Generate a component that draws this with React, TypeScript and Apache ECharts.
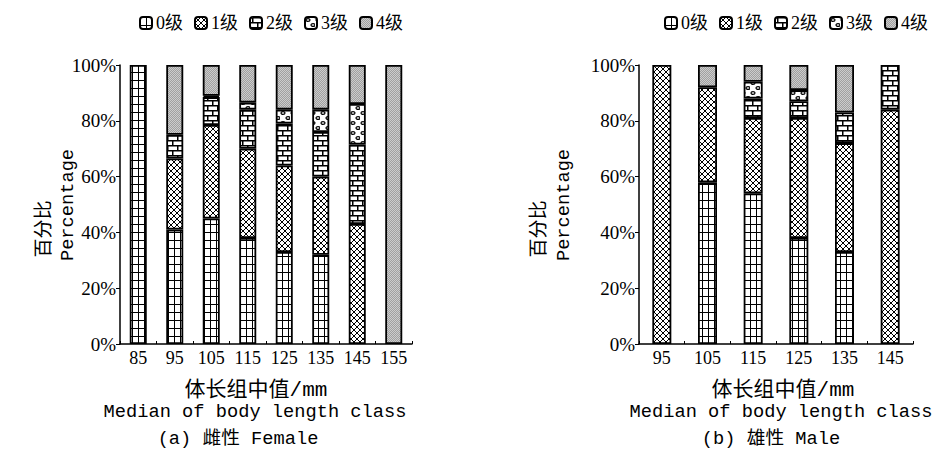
import React, { useEffect, useRef } from "react";
import * as echarts from "echarts";

const levels = ["0级", "1级", "2级", "3级", "4级"];

const femaleCats = ["85", "95", "105", "115", "125", "135", "145", "155"];
const female0 = [100, 41, 45, 38, 33, 32, 0, 0];
const female1 = [0, 25.5, 33.5, 32, 31, 28, 43, 0];
const female2 = [0, 8.5, 10, 14, 15, 16, 28.5, 0];
const female3 = [0, 0, 0.5, 2.5, 5, 8, 14.5, 0];
const female4 = [0, 25, 11, 13.5, 16, 16, 14, 100];

const maleCats = ["95", "105", "115", "125", "135", "145"];
const male0 = [0, 58, 54, 38, 33, 0];
const male1 = [100, 34, 27, 43, 39, 84];
const male2 = [0, 0, 7, 6, 11, 16];
const male3 = [0, 0, 6, 4, 0, 0];
const male4 = [0, 8, 6, 9, 17, 0];

const yTicks = { min: 0, max: 100, interval: 20 };

const SERIF = "'Liberation Serif', 'Noto Sans CJK SC', serif";
const MONO = "'Liberation Mono', 'Noto Sans CJK SC', monospace";

function tile(w: number, h: number, draw: (ctx: CanvasRenderingContext2D) => void, bg = "#fff") {
  const c = document.createElement("canvas");
  c.width = w;
  c.height = h;
  const ctx = c.getContext("2d")!;
  ctx.fillStyle = bg;
  ctx.fillRect(0, 0, w, h);
  draw(ctx);
  return { image: c, repeat: "repeat", imageWidth: w, imageHeight: h } as any;
}

function makePatterns() {
  const grid = tile(6, 8, (ctx) => {
    ctx.fillStyle = "#000";
    ctx.fillRect(0, 0, 6, 1);
    ctx.fillRect(0, 0, 1, 8);
  });
  const cross = tile(6, 6, (ctx) => {
    ctx.strokeStyle = "#000";
    ctx.lineWidth = 1;
    ctx.beginPath();
    ctx.moveTo(0, 0);
    ctx.lineTo(6, 6);
    ctx.moveTo(6, 0);
    ctx.lineTo(0, 6);
    ctx.stroke();
  });
  const brick = tile(10, 10, (ctx) => {
    ctx.fillStyle = "#000";
    ctx.fillRect(0, 0, 10, 1.5);
    ctx.fillRect(0, 5, 10, 1.5);
    ctx.fillRect(2, 0, 1.5, 5);
    ctx.fillRect(7, 5, 1.5, 5);
  });
  const blobs = tile(10, 10, (ctx) => {
    ctx.strokeStyle = "#000";
    ctx.lineWidth = 1.2;
    ctx.beginPath();
    ctx.ellipse(3, 3, 2, 1.4, 0, 0, Math.PI * 2);
    ctx.stroke();
    ctx.beginPath();
    ctx.ellipse(8, 8, 2, 1.4, 0, 0, Math.PI * 2);
    ctx.stroke();
  });
  const gray = tile(2, 2, (ctx) => {
    ctx.fillStyle = "#cccccc";
    ctx.fillRect(0, 0, 1, 1);
    ctx.fillRect(1, 1, 1, 1);
  }, "#a0a0a0");
  return [grid, cross, brick, blobs, gray];
}

export default function App() {
  const ref = useRef<HTMLDivElement>(null);
  useEffect(() => {
    if (!ref.current) return;
    const chart = echarts.init(ref.current, undefined, { renderer: "svg" });
    const pats = makePatterns();
    const femaleData = [female0, female1, female2, female3, female4];
    const maleData = [male0, male1, male2, male3, male4];

    const series: any[] = [];
    [femaleData, maleData].forEach((group, gi) => {
      group.forEach((d, k) => {
        series.push({
          type: "bar",
          name: levels[k],
          stack: "g" + gi,
          xAxisIndex: gi,
          yAxisIndex: gi,
          data: d.map((v) => (v === 0 ? "-" : v)),
          barWidth: gi === 0 ? 17 : 19,
          itemStyle: { color: pats[k], borderColor: "#000", borderWidth: 1.8 },
        });
      });
    });

    const xAxisBase = (data: string[], gi: number) => ({
      type: "category",
      gridIndex: gi,
      data,
      boundaryGap: true,
      axisLine: { show: true, lineStyle: { color: "#000", width: 1.5 } },
      axisTick: { show: true, inside: true, length: 3, alignWithLabel: false, interval: 0, lineStyle: { color: "#000" } },
      axisLabel: { interval: 0, margin: 5, color: "#000", fontSize: 18, fontFamily: SERIF },
      splitLine: { show: false },
    });
    const yAxisBase = (gi: number) => ({
      type: "value",
      gridIndex: gi,
      min: yTicks.min,
      max: yTicks.max,
      interval: yTicks.interval,
      axisLine: { show: true, lineStyle: { color: "#000", width: 1.5 } },
      axisTick: { show: true, inside: false, length: 4, lineStyle: { color: "#000" } },
      axisLabel: { formatter: "{value}%", margin: 4, color: "#000", fontSize: 19, fontFamily: SERIF },
      splitLine: { show: false },
    });

    const txt = (text: string, x: number, y: number, size: number, family: string, rotation = 0) => ({
      type: "text",
      x,
      y,
      rotation,
      style: {
        text,
        fontSize: size,
        fontFamily: family,
        fill: "#000",
        align: "center",
        verticalAlign: "middle",
        textAlign: "center",
        textVerticalAlign: "middle",
      },
    });

    const legendBase = (left: number) => ({
      left,
      top: 9,
      itemWidth: 12,
      itemHeight: 12,
      itemGap: 11,
      data: levels,
      selectedMode: false,
      itemStyle: { borderColor: "#000", borderWidth: 2 },
      textStyle: { color: "#000", fontSize: 18, fontFamily: SERIF, padding: [0, 0, 0, -1] },
    });

    chart.setOption({
      animation: false,
      backgroundColor: "#fff",
      legend: [legendBase(134), legendBase(659)],
      grid: [
        { left: 120, top: 65, width: 292, height: 279, containLabel: false },
        { left: 639, top: 65, width: 274, height: 279, containLabel: false },
      ],
      xAxis: [xAxisBase(femaleCats, 0), xAxisBase(maleCats, 1)],
      yAxis: [yAxisBase(0), yAxisBase(1)],
      series,
      graphic: [
        txt("百分比", 45, 229, 19, MONO, Math.PI / 2),
        txt("Percentage", 68, 205, 18.7, MONO, Math.PI / 2),
        txt("体长组中值/mm", 256, 390, 21, MONO),
        txt("Median of body length class", 255, 412, 18.7, MONO),
        txt("(a) 雌性 Female", 238, 439, 18.7, MONO),
        txt("百分比", 540, 229, 19, MONO, Math.PI / 2),
        txt("Percentage", 564, 205, 18.7, MONO, Math.PI / 2),
        txt("体长组中值/mm", 783, 390, 21, MONO),
        txt("Median of body length class", 781, 412, 18.7, MONO),
        txt("(b) 雄性 Male", 771, 439, 18.7, MONO),
      ],
    });
    return () => chart.dispose();
  }, []);
  return (
    <div
      ref={ref}
      style={{ position: "fixed", left: 0, top: 0, width: 934, height: 453, background: "#fff" }}
    />
  );
}
